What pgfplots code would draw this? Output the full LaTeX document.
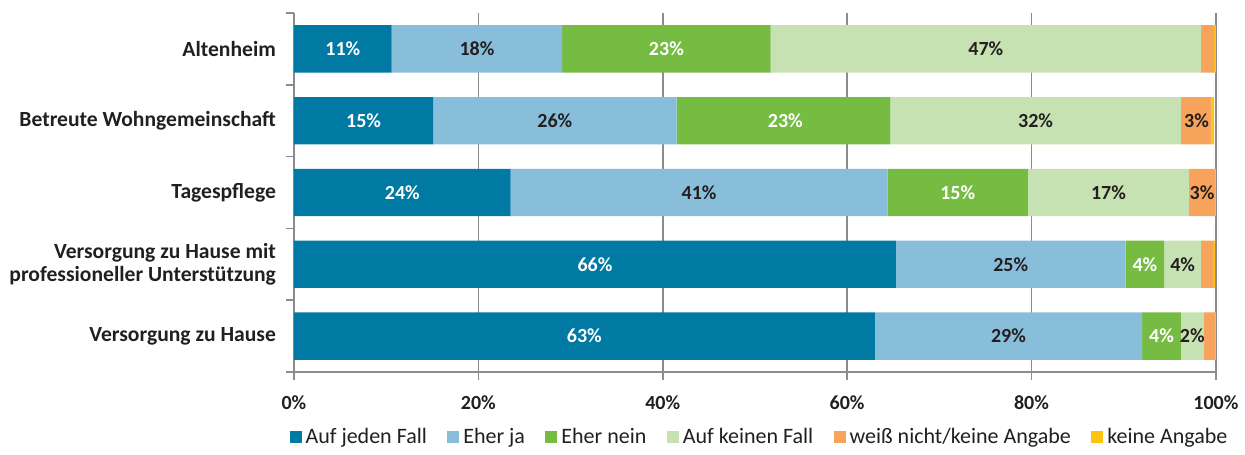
\documentclass[border=0pt]{standalone}
\usepackage{pgfplots}
\pgfplotsset{compat=1.18}
\usepackage{fontspec}
\setmainfont{Carlito}
\definecolor{c1}{HTML}{0079A3}
\definecolor{c2}{HTML}{89BEDB}
\definecolor{c3}{HTML}{76BC43}
\definecolor{c4}{HTML}{C7E2B2}
\definecolor{c5}{HTML}{F7A35C}
\definecolor{c6}{HTML}{FFC20E}
\definecolor{axgray}{HTML}{8C8C8C}
\definecolor{txt}{HTML}{231F20}
\pgfplotsset{common/.style={scale only axis, width=461pt, height=179.5pt,
  xmin=0, xmax=100, ymin=0.5, ymax=5.5, y dir=reverse}}
\begin{document}
\begin{tikzpicture}
\begin{axis}[
  common,
  xbar stacked, bar width=0.66,
  axis x line*=bottom, axis y line*=left,
  axis line style={draw=axgray, line width=0.8pt, -},
  xtick={0,20,...,100}, xticklabels={0\%,20\%,40\%,60\%,80\%,100\%},
  xticklabel style={font=\bfseries\fontsize{10}{11}\selectfont, text=txt, yshift=-4.5pt},
  xmajorgrids, grid style={draw=axgray, line width=0.8pt},
  tick align=outside, major tick length=4pt,
  xtick style={draw=axgray, line width=0.8pt},
  ytick={0.5,1.5,...,5.5}, yticklabels={},
  ytick style={draw=axgray, line width=0.8pt},
  extra y ticks={1,2,3,4,5},
  extra y tick labels={Altenheim, Betreute Wohngemeinschaft, Tagespflege, {Versorgung zu Hause mit\\professioneller Unterstützung}, Versorgung zu Hause},
  extra y tick style={major tick length=0pt, yticklabel style={font=\bfseries\fontsize{10.8}{11.8}\selectfont, text=txt, align=right, xshift=-5.5pt}},
  legend style={at={(0.506,-0.181)}, anchor=center, draw=none, font=\fontsize{11}{12}\selectfont, text=txt,
    /tikz/every even column/.append style={column sep=8.2pt}},
  legend columns=6,
  legend image code/.code={\fill[#1] (0pt,-3pt) rectangle (6pt,3pt);},
]
\addplot+[fill=c1, draw=none] coordinates {(10.6,1) (15.1,2) (23.5,3) (65.3,4) (63.0,5)};
\addplot+[fill=c2, draw=none] coordinates {(18.5,1) (26.4,2) (40.9,3) (24.9,4) (29.0,5)};
\addplot+[fill=c3, draw=none] coordinates {(22.6,1) (23.2,2) (15.2,3) (4.2,4) (4.2,5)};
\addplot+[fill=c4, draw=none] coordinates {(46.7,1) (31.5,2) (17.5,3) (4.0,4) (2.5,5)};
\addplot+[fill=c5, draw=none] coordinates {(1.4,1) (3.3,2) (2.8,3) (1.3,4) (1.2,5)};
\addplot+[fill=c6, draw=none] coordinates {(0.2,1) (0.3,2) (0.1,3) (0.2,4) (0.1,5)};
\legend{Auf jeden Fall, Eher ja, Eher nein, Auf keinen Fall, weiß nicht/keine Angabe, keine Angabe}
\end{axis}
\begin{axis}[common, hide axis,
  point meta=explicit symbolic,
  nodes near coords, nodes near coords align=center,
  every node near coord/.append style={anchor=center, font=\bfseries\fontsize{10}{11}\selectfont}]
% white labels (dark blue and green segments)
\addplot[draw=none, mark=none, every node near coord/.append style={text=white}] coordinates {
  (5.3,1) [11\%] (7.55,2) [15\%] (11.75,3) [24\%] (32.65,4) [66\%] (31.5,5) [63\%]
  (40.4,1) [23\%] (53.3,2) [23\%] (72.0,3) [15\%] (92.3,4) [4\%] (94.1,5) [4\%]};
% dark labels (light blue, light green, orange segments)
\addplot[draw=none, mark=none, every node near coord/.append style={text=txt}] coordinates {
  (19.85,1) [18\%] (28.3,2) [26\%] (43.95,3) [41\%] (77.75,4) [25\%] (77.5,5) [29\%]
  (75.05,1) [47\%] (80.45,2) [32\%] (88.35,3) [17\%] (96.4,4) [4\%] (97.45,5) [2\%]
  (97.9,2) [3\%] (98.5,3) [3\%]};
\end{axis}
\path ([yshift=6.5pt]current axis.north);
\path ([yshift=-38pt]current axis.south);
\path ([xshift=-147pt]current axis.west);
\path ([xshift=14.5pt]current axis.east);
\end{tikzpicture}
\end{document}
